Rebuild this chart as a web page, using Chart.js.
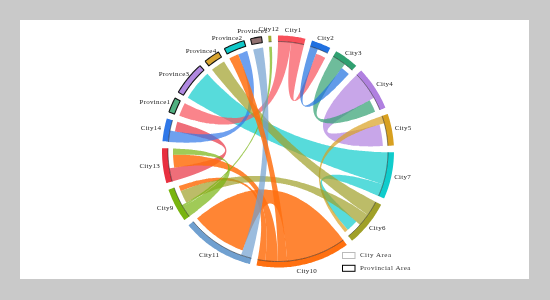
<!DOCTYPE html>
<html>
<head>
<meta charset="UTF-8">
<title>City and provincial flows</title>
<style>
  html, body { margin: 0; padding: 0; background: #c9c9c9; }
  #panel { position: absolute; left: 20px; top: 20px; width: 509px; height: 259px; background: #fff; }
  #chart { position: absolute; left: 0; top: 0; }
</style>
<script src="https://cdn.jsdelivr.net/npm/chart.js"></script>
</head>
<body>
<div id="panel"></div>
<canvas id="chart" width="550" height="300"></canvas>
<script>
  // nodes, clockwise from twelve o'clock
  const nodeNames = ['City1', 'City2', 'City3', 'City4', 'City5', 'City7', 'City6', 'City10', 'City11',
    'City9', 'City13', 'City14', 'Province1', 'Province3', 'Province4', 'Province2', 'Province1', 'City12'];
  const provincial = [12, 13, 14, 15, 16];
  const nodeColors = ['#f8505a', '#2070e0', '#30a070', '#b080e0', '#d8a020', '#10cccc', '#a0a028', '#ff7010', '#70a0d0',
    '#78b410', '#e83040', '#3078e8', '#50b080', '#b088e0', '#d8a430', '#10c8c8', '#907070', '#a0ac30'];

  // flows: source node, target node, size at each end
  const flowIds = ['A', 'B', 'C', 'D', 'E', 'F', 'G', 'H', 'I', 'J', 'K', 'L', 'M', 'N', 'O', 'P', 'Q', 'R', 'S'];
  const flowFrom = [0, 0, 1, 2, 3, 4, 5, 5, 6, 6, 7, 7, 7, 7, 8, 9, 9, 10, 11];
  const flowTo = [12, 1, 2, 3, 4, 6, 13, 6, 14, 9, 8, 15, 10, 9, 16, 10, 17, 11, 15];
  const flowOut = [6.85, 6.85, 4.2, 7.3, 15, 4, 17, 6.5, 8, 6.5, 31.5, 5, 6.5, 4, 5.6, 6, 1, 7, 6];
  const flowIn = [7.5, 5.5, 5, 7, 11.9, 2, 17, 6.5, 8, 7, 30.8, 5.25, 7, 3, 5.5, 3.5, 1.5, 5.5, 5.25];
  // which flow sits where inside each node, clockwise
  const nodeSlots = [['A', 'B'], ['C', 'B'], ['D', 'C'], ['E', 'D'], ['F', 'E'], ['G', 'H'], ['I', 'J', 'H', 'F'],
    ['K', 'L', 'M', 'N'], ['O', 'K'], ['P', 'Q', 'J', 'N'], ['R', 'M', 'P'], ['S', 'R'],
    ['A'], ['G'], ['I'], ['L', 'S'], ['O'], ['Q']];
  // paint order of the ribbons, last one on top
  const paintOrder = ['K', 'G', 'E', 'D', 'A', 'B', 'R', 'C', 'H', 'F', 'M', 'N', 'S', 'J', 'I', 'P', 'Q', 'O', 'L'];

  const legendNames = ['City Area', 'Provincial Area'];

  const GAP = 3.35, R_OUT = 116, R_IN = 110, R_TARGET = 105;

  function polar(deg, r) {
    const a = deg * Math.PI / 180;
    return { x: r * Math.sin(a), y: r * Math.cos(a) };
  }

  function arcPoints(a0, a1, r) {
    const out = [], n = Math.max(2, Math.ceil(Math.abs(a1 - a0) / 1.5));
    for (let i = 0; i <= n; i++) out.push(polar(a0 + (a1 - a0) * i / n, r));
    return out;
  }

  // quadratic curve pulled through the centre of the circle
  function curvePoints(p, q) {
    const out = [];
    for (let i = 1; i < 40; i++) {
      const t = i / 40;
      out.push({ x: (1 - t) * (1 - t) * p.x + t * t * q.x, y: (1 - t) * (1 - t) * p.y + t * t * q.y });
    }
    return out;
  }

  function endSize(node, id) {
    const f = flowIds.indexOf(id);
    return flowFrom[f] === node ? flowOut[f] : flowIn[f];
  }

  // chord layout from the flows
  const nodeSpans = [], flowEnds = {};
  {
    const total = nodeSlots.reduce((s, slots, i) => s + slots.reduce((t, id) => t + endSize(i, id), 0), 0);
    const k = (360 - GAP * nodeNames.length) / total;
    let angle = 0;
    nodeSlots.forEach((slots, i) => {
      const start = angle;
      slots.forEach(id => {
        const w = endSize(i, id) * k;
        const f = flowIds.indexOf(id);
        flowEnds[id] = flowEnds[id] || {};
        flowEnds[id][flowFrom[f] === i ? 'source' : 'target'] = [angle, angle + w];
        angle += w;
      });
      nodeSpans.push([start, angle]);
      angle += GAP;
    });
  }

  function withAlpha(hex, alpha) {
    const v = parseInt(hex.slice(1), 16);
    return `rgba(${v >> 16},${(v >> 8) & 255},${v & 255},${alpha})`;
  }

  const datasets = [];

  paintOrder.forEach(id => {
    const f = flowIds.indexOf(id);
    const [a0, a1] = flowEnds[id].source;
    const [b0, b1] = flowEnds[id].target;
    const points = [
      ...arcPoints(a0, a1, R_IN),
      ...curvePoints(polar(a1, R_IN), polar(b0, R_TARGET)),
      ...arcPoints(b0, b1, R_TARGET),
      ...curvePoints(polar(b1, R_TARGET), polar(a0, R_IN))
    ];
    // the orange ones read stronger in the picture
    const alpha = flowFrom[f] === 7 ? 0.85 : 0.7;
    datasets.push({ data: points, backgroundColor: withAlpha(nodeColors[flowFrom[f]], alpha), fill: 'shape', borderWidth: 0 });
  });

  nodeSpans.forEach(([a0, a1], i) => {
    const isProv = provincial.includes(i);
    const outer = arcPoints(a0, a1, R_OUT);
    const inner = arcPoints(a1, a0, R_IN);
    datasets.push({
      data: [...outer, ...inner, outer[0]],
      backgroundColor: nodeColors[i],
      fill: 'shape',
      borderWidth: isProv ? 1.1 : 0,
      borderColor: '#111'
    });
    if (!isProv) {
      datasets.push({ data: inner, fill: false, borderWidth: 0.7, borderColor: 'rgba(20,20,20,0.75)' });
    }
  });

  const labelsPlugin = {
    id: 'chordLabels',
    afterDraw(chart) {
      const { ctx, scales: { x, y } } = chart;
      ctx.save();
      ctx.font = '7px "Liberation Serif"';
      ctx.letterSpacing = '0.25px';
      ctx.textBaseline = 'middle';
      ctx.textAlign = 'center';
      ctx.fillStyle = '#222';
      nodeNames.forEach((name, i) => {
        const mid = (nodeSpans[i][0] + nodeSpans[i][1]) / 2;
        const w = ctx.measureText(name).width;
        const a = mid * Math.PI / 180;
        const px = x.getPixelForValue((119 + w / 2) * Math.sin(a));
        const py = y.getPixelForValue((119 + 3.5) * Math.cos(a));
        ctx.fillText(name, px, py);
      });

      // key at the lower right
      ctx.textAlign = 'left';
      ctx.letterSpacing = '0.45px';
      legendNames.forEach((name, i) => {
        const top = 252.5 + i * 12.8;
        ctx.lineWidth = 1;
        ctx.strokeStyle = i ? '#000' : '#bbb';
        ctx.strokeRect(342.5, top, 12.5, 6);
        ctx.fillStyle = '#333';
        ctx.fillText(name, 360, top + 3);
      });
      ctx.restore();
    }
  };

  new Chart(document.getElementById('chart'), {
    type: 'scatter',
    data: { datasets: datasets.reverse() },
    options: {
      responsive: false,
      animation: false,
      layout: { padding: 0 },
      showLine: true,
      elements: { point: { radius: 0 }, line: { tension: 0.01 } },
      plugins: { legend: { display: false }, tooltip: { enabled: false } },
      scales: {
        x: { type: 'linear', display: false, min: -278, max: 272 },
        y: { type: 'linear', display: false, min: -148.5, max: 151.5 }
      }
    },
    plugins: [labelsPlugin]
  });
</script>
</body>
</html>
